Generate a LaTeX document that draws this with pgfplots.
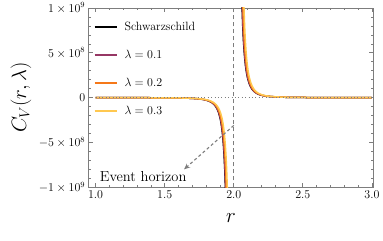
\documentclass[border=0pt]{standalone}
\usepackage{pgfplots}
\pgfplotsset{compat=1.18}
\usepackage{pgfplotstable}
\usetikzlibrary{arrows.meta}
\definecolor{cA}{RGB}{150,55,100}
\definecolor{cB}{RGB}{245,120,25}
\definecolor{cC}{RGB}{255,200,80}
\definecolor{framec}{RGB}{125,125,125}

\pgfplotstableread{
rS rA rB rC C
1.0 1.0 1.0 1.0 -2.2e5
1.3 1.3015 1.306 1.3135 -6.4e5
1.5 1.5015 1.506 1.5135 -1.76e6
1.6 1.6015 1.606 1.6135 -3.44e6
1.65 1.6515 1.656 1.6635 -5.13e6
1.7 1.7015 1.706 1.7135 -8.15e6
1.75 1.7515 1.756 1.7635 -1.408e7
1.78 1.7815 1.786 1.7935 -2.066e7
1.8 1.8015 1.806 1.8135 -2.75e7
1.82 1.8215 1.826 1.8335 -3.772e7
1.84 1.8415 1.846 1.8535 -5.371e7
1.85 1.8515 1.856 1.8635 -6.52e7
1.86 1.8615 1.866 1.8735 -8.017e7
1.87 1.8715 1.876 1.8835 -1.001e8
1.88 1.8815 1.886 1.8935 -1.273e8
1.89 1.8915 1.896 1.9035 -1.653e8
1.9 1.9015 1.906 1.9135 -2.2e8
1.905 1.9065 1.911 1.9185 -2.566e8
1.91 1.9115 1.916 1.9235 -3.018e8
1.915 1.9165 1.921 1.9285 -3.582e8
1.92 1.9215 1.926 1.9335 -4.297e8
1.925 1.9265 1.931 1.9385 -5.215e8
1.93 1.9315 1.936 1.9435 -6.414e8
1.935 1.9365 1.941 1.9485 -8.011e8
1.94 1.9415 1.946 1.9535 -1.0185e9
1.945 1.9465 1.951 1.9585 -1.3223e9
2 2 2 2 nan
2.055 2.0565 2.061 2.0685 1.3223e9
2.06 2.0615 2.066 2.0735 1.0185e9
2.065 2.0665 2.071 2.0785 8.011e8
2.07 2.0715 2.076 2.0835 6.414e8
2.075 2.0765 2.081 2.0885 5.215e8
2.08 2.0815 2.086 2.0935 4.297e8
2.085 2.0865 2.091 2.0985 3.582e8
2.09 2.0915 2.096 2.1035 3.018e8
2.095 2.0965 2.101 2.1085 2.566e8
2.1 2.1015 2.106 2.1135 2.2e8
2.11 2.1115 2.116 2.1235 1.653e8
2.12 2.1215 2.126 2.1335 1.273e8
2.13 2.1315 2.136 2.1435 1.001e8
2.14 2.1415 2.146 2.1535 8.017e7
2.15 2.1515 2.156 2.1635 6.52e7
2.16 2.1615 2.166 2.1735 5.371e7
2.18 2.1815 2.186 2.1935 3.772e7
2.2 2.2015 2.206 2.2135 2.75e7
2.22 2.2215 2.226 2.2335 2.066e7
2.25 2.2515 2.256 2.2635 1.408e7
2.3 2.3015 2.306 2.3135 8.15e6
2.35 2.3515 2.356 2.3635 5.13e6
2.4 2.4015 2.406 2.4135 3.44e6
2.5 2.5015 2.506 2.5135 1.76e6
2.7 2.7015 2.706 2.7135 6.4e5
3.0 3.0 3.0 3.0 2.2e5
}\datatable

\begin{document}
\begin{tikzpicture}
\useasboundingbox (0,0) rectangle (383pt,241pt);
\begin{axis}[
  at={(88.7pt,53.7pt)}, anchor=south west,
  scale only axis, width=284.6pt, height=179.3pt,
  xmin=0.95, xmax=3.01, ymin=-1e9, ymax=1e9,
  unbounded coords=jump,
  axis line style={framec, line width=0.9pt},
  xtick={1,1.5,2,2.5,3}, xticklabels={1.0,1.5,2.0,2.5,3.0},
  minor x tick num=4,
  ytick={-1e9,-5e8,0,5e8,1e9},
  yticklabels={$-1\times10^{9}$,$-5\times10^{8}$,$0$,$5\times10^{8}$,$1\times10^{9}$},
  scaled y ticks=false,
  minor y tick num=4,
  tick align=inside,
  major tick length=4pt, minor tick length=2.5pt,
  every tick/.style={framec, line width=0.7pt},
  tick label style={font=\fontsize{12}{14}\selectfont, black},
  xlabel={$r$},
  xlabel style={font=\fontsize{20}{24}\selectfont, at={(axis description cs:0.5,-0.1712)}, anchor=center},
  ylabel={$C_V(r,\lambda)$},
  ylabel style={font=\fontsize{20}{24}\selectfont, at={(axis description cs:-0.238,0.5)}, anchor=center},
  legend cell align=left,
  legend image code/.code={\draw[#1, line width=1.6pt] (0pt,0pt) -- (22pt,0pt);},
  legend style={at={(axis description cs:0,1)}, anchor=north west, draw=none, fill=none,
    font=\fontsize{12}{14}\selectfont, row sep=14pt, xshift=2pt, yshift=-10pt,
    /tikz/every odd column/.append style={column sep=5pt}},
]
\addplot[black, line width=1.5pt] table[x=rS, y=C] {\datatable};
\addlegendentry{Schwarzschild}
\addplot[cA, line width=1.5pt] table[x=rA, y=C] {\datatable};
\addlegendentry{$\lambda=0.1$}
\addplot[cB, line width=1.5pt] table[x=rB, y=C] {\datatable};
\addlegendentry{$\lambda=0.2$}
\addplot[cC, line width=1.5pt] table[x=rC, y=C] {\datatable};
\addlegendentry{$\lambda=0.3$}
\draw[framec, line width=0.8pt, dash pattern=on 0.8pt off 2.6pt] (axis cs:0.95,0) -- (axis cs:3.01,0);
\draw[framec, line width=1.1pt, dash pattern=on 4pt off 3pt] (axis cs:2,-1e9) -- (axis cs:2,1e9);
\draw[framec, line width=1.1pt, dash pattern=on 3pt off 2.5pt, -{Stealth[length=6pt,width=5pt]}] (axis cs:2.0,-0.31e9) -- (axis cs:1.64,-0.80e9);
\node[font=\fontsize{14.5}{16}\selectfont, inner sep=0pt] at (axis cs:1.344,-0.877e9) {Event horizon};
\end{axis}
\end{tikzpicture}
\end{document}
